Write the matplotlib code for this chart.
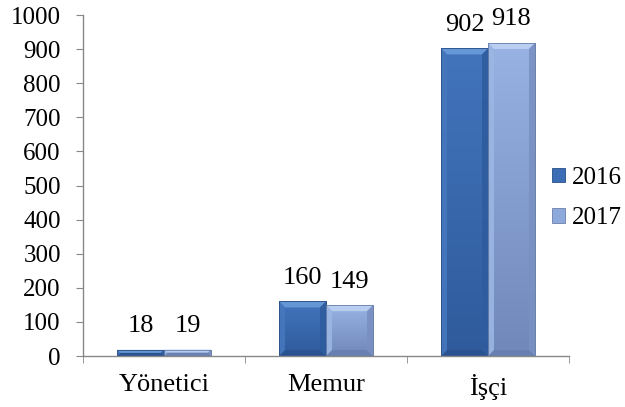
import matplotlib
matplotlib.use("Agg")
import matplotlib.pyplot as plt
from matplotlib.patches import Polygon
from matplotlib.colors import LinearSegmentedColormap
import numpy as np

categories = ["Yönetici", "Memur", "İşçi"]
series_names = ["2016", "2017"]
values_2016 = [18, 160, 902]
values_2017 = [19, 149, 918]
yticks = [0, 100, 200, 300, 400, 500, 600, 700, 800, 900, 1000]

plt.rcParams['font.family'] = ['Liberation Serif', 'DejaVu Serif']
FS = 19
FS_Y = 18

fig = plt.figure(figsize=(6.25, 4.07), dpi=100)
ax = fig.add_axes([0.1328, 0.1253, 0.7776, 0.8378])
ax.set_xlim(-0.5, 2.5)
ax.set_ylim(0, 1000)

x = np.arange(len(categories))
w = 0.29
styles = [
    dict(face="#3C6EB5", top="#6A9AD8", bottom="#2A5290", left="#4677BD", right="#2F5C9F",
         grad=("#4274BC", "#2F5B9C"), edge="#2A4F86"),
    dict(face="#8EA9DB", top="#BDD2F2", bottom="#6880B0", left="#9CB6E4", right="#7990C2",
         grad=("#97B2E3", "#7189BA"), edge="#6A80AA"),
]
bar_sets = []
for i, vals in enumerate((values_2016, values_2017)):
    st = styles[i]
    b = ax.bar(x + (i - 0.5) * w, vals, w, color=st["face"], edgecolor=st["edge"],
               linewidth=0.6, label=series_names[i], zorder=2)
    bar_sets.append((b, vals, st))

# pixel -> data scale
px_x = 3.0 / (0.7776 * 625)
px_y = 1000.0 / (0.8378 * 407)
bev = 6

for b, vals, st in bar_sets:
    cmap = LinearSegmentedColormap.from_list("g", [st["grad"][1], st["grad"][0]])
    for rect, v in zip(b, vals):
        x0, y0 = rect.get_x(), rect.get_y()
        wd, ht = rect.get_width(), rect.get_height()
        grad = np.linspace(0, 1, 64).reshape(-1, 1)
        im = ax.imshow(grad, extent=[x0, x0 + wd, y0, y0 + ht], origin="lower",
                       aspect="auto", cmap=cmap, zorder=2.1, interpolation="bilinear")
        im.set_clip_path(rect)
        bx = bev * px_x
        by = min(bev * px_y, ht / 2.0)
        bxx = min(bx, by / px_y * px_x) if ht / 2.0 < bev * px_y else bx
        x1, y1 = x0 + wd, y0 + ht
        ix0, ix1 = x0 + bxx, x1 - bxx
        iy0, iy1 = y0 + by, y1 - by
        polys = [
            ([(x0, y1), (x1, y1), (ix1, iy1), (ix0, iy1)], st["top"]),
            ([(x0, y0), (x1, y0), (ix1, iy0), (ix0, iy0)], st["bottom"]),
            ([(x0, y0), (ix0, iy0), (ix0, iy1), (x0, y1)], st["left"]),
            ([(x1, y0), (ix1, iy0), (ix1, iy1), (x1, y1)], st["right"]),
        ]
        for pts, col in polys:
            ax.add_patch(Polygon(pts, closed=True, facecolor=col, edgecolor="none",
                                 zorder=2.2, alpha=0.9))
        ax.add_patch(plt.Rectangle((x0, y0), wd, ht, fill=False,
                                   edgecolor=st["edge"], linewidth=0.6, zorder=2.3))
        ax.annotate(str(v), (x0 + wd / 2, v), xytext=(0, 9), textcoords="offset points",
                    ha="center", va="bottom", fontsize=FS, zorder=3)

ax.set_yticks(yticks)
ax.set_yticklabels([str(t) for t in yticks], fontsize=FS_Y)
ax.set_xticks(x)
ax.set_xticklabels(categories, fontsize=FS)
ax.set_xticks([-0.5, 0.5, 1.5, 2.5], minor=True)
ax.tick_params(axis="x", which="major", length=0, pad=13)
ax.tick_params(axis="x", which="minor", length=5, color="#888888", direction="out")
ax.tick_params(axis="y", length=5, color="#888888", direction="out", pad=11)

for s in ("top", "right"):
    ax.spines[s].set_visible(False)
for s in ("left", "bottom"):
    ax.spines[s].set_color("#888888")
    ax.spines[s].set_linewidth(1.0)

leg = fig.legend(handles=[bar_sets[0][0], bar_sets[1][0]], labels=series_names,
                 loc="center left", bbox_to_anchor=(552 / 625, 1 - 198 / 407),
                 frameon=False, fontsize=FS_Y, handlelength=0.5, handleheight=0.5,
                 handletextpad=0.3, labelspacing=0.75, borderpad=0, borderaxespad=0)

fig.savefig("out.png", dpi=100)
